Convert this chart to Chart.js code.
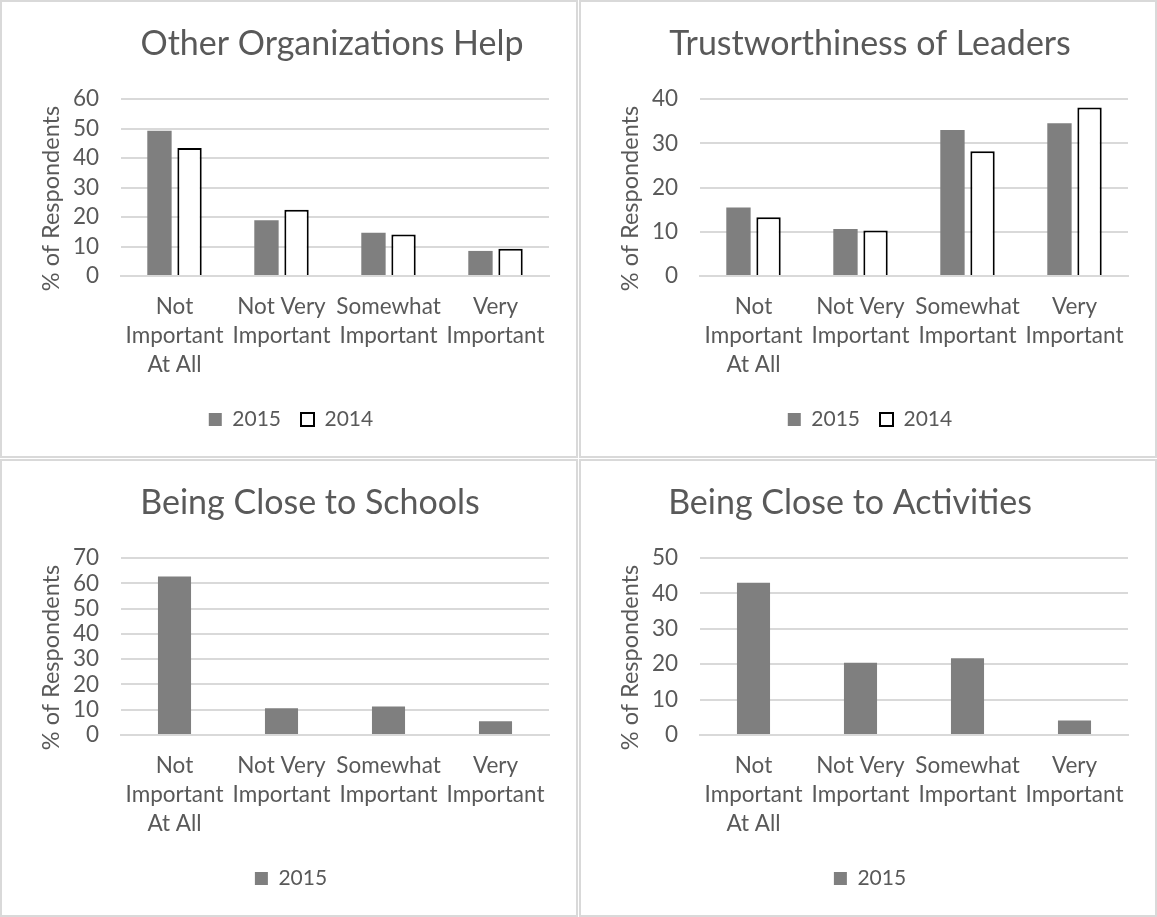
<!DOCTYPE html>
<html><head><meta charset="utf-8">
<script src="https://cdn.jsdelivr.net/npm/chart.js@4"></script>
<style>
html,body{margin:0;padding:0;background:#fff;}
body{width:1157px;height:917px;position:relative;overflow:hidden;}
.panel{position:absolute;width:578px;height:458px;border:2px solid #d9d9d9;box-sizing:border-box;background:#fff;}
.panel canvas{display:block;}
</style></head><body>
<div class="panel" style="left:0;top:0"><canvas id="c1" width="574" height="454"></canvas></div>
<div class="panel" style="left:579px;top:0"><canvas id="c2" width="574" height="454"></canvas></div>
<div class="panel" style="left:0;top:459px"><canvas id="c3" width="574" height="454"></canvas></div>
<div class="panel" style="left:579px;top:459px"><canvas id="c4" width="574" height="454"></canvas></div>
<script>
// ---- data ----
const categories = [['Not', 'Important', 'At All'], ['Not Very', 'Important'], ['Somewhat', 'Important'], ['Very', 'Important']];
const seriesNames = ['2015', '2014'];
const yAxisTitle = '% of Respondents';

const orgHelpTitle = 'Other Organizations Help';
const orgHelp2015 = [49.2, 18.9, 14.7, 8.5];
const orgHelp2014 = [43.4, 22.5, 14.1, 9.2];

const trustTitle = 'Trustworthiness of Leaders';
const trust2015 = [15.5, 10.6, 33.0, 34.5];
const trust2014 = [13.3, 10.3, 28.2, 38.1];

const schoolsTitle = 'Being Close to Schools';
const schools2015 = [62.7, 10.6, 11.3, 5.4];

const activitiesTitle = 'Being Close to Activities';
const activities2015 = [43.0, 20.4, 21.7, 4.1];

const yMaxOrgHelp = 60, yMaxTrust = 40, yMaxSchools = 70, yMaxActivities = 50;

// ---- styles ----
const TEXT = '#595959';
const GRID = '#d9d9d9';
const GRAY = '#7f7f7f';
Chart.defaults.font.family = 'Lato, "Liberation Sans", sans-serif';
Chart.defaults.color = TEXT;

// shifts the chart title horizontally and the y-axis title vertically (Excel-style manual placement)
const placement = {
  id: 'placement',
  afterLayout(chart, args, opts) {
    const tb = chart.titleBlock;
    if (tb && opts && opts.dx) { tb.left += opts.dx; tb.right += opts.dx; }
    const s = chart.scales.y;
    if (s && !s._titlePatched && opts && opts.yTitleDy) {
      const orig = s.drawTitle.bind(s);
      const dy = opts.yTitleDy;
      s.drawTitle = function () {
        const t = this.top, b = this.bottom;
        this.top = t + dy; this.bottom = b + dy;
        orig();
        this.top = t; this.bottom = b;
      };
      s._titlePatched = true;
    }
  }
};

function ds2015(values, single) {
  return { label: seriesNames[0], data: values, backgroundColor: GRAY, borderWidth: 0,
           categoryPercentage: 0.562, barPercentage: single ? 0.55 : 0.81 };
}
function ds2014(values) {
  return { label: seriesNames[1], data: values, backgroundColor: '#ffffff', borderColor: '#000000',
           borderWidth: 2, categoryPercentage: 0.562, barPercentage: 0.81 };
}

function makeChart(id, title, datasets, yMax, dx) {
  return new Chart(document.getElementById(id), {
    type: 'bar',
    data: { labels: categories, datasets },
    plugins: [placement],
    options: {
      responsive: false,
      animation: false,
      devicePixelRatio: 1,
      layout: { padding: { left: 31, right: 27, top: 0, bottom: 16 } },
      plugins: {
        placement: { dx, yTitleDy: 11 },
        title: { display: true, text: title, color: TEXT,
                 font: { size: 34, weight: 'normal', lineHeight: 1.2 },
                 padding: { top: 22, bottom: 34.2 } },
        legend: { position: 'bottom',
                  labels: { boxWidth: 13, boxHeight: 13, padding: 20, color: TEXT, font: { size: 21 } } },
        tooltip: { enabled: false }
      },
      scales: {
        x: {
          grid: { display: false, drawTicks: false },
          border: { display: true, color: GRID, width: 2 },
          ticks: { color: TEXT, font: { size: 22.5, lineHeight: 1.3 }, padding: 16,
                   maxRotation: 0, minRotation: 0, autoSkip: false },
          afterFit(s) { s.height = 113; }
        },
        y: {
          min: 0, max: yMax,
          grid: { color: GRID, lineWidth: 2, drawTicks: false },
          border: { display: false },
          ticks: { stepSize: 10, padding: 22, color: TEXT, font: { size: 22.5 }, autoSkip: false },
          title: { display: true, text: yAxisTitle, color: TEXT, font: { size: 23.5 },
                   padding: { top: 4, bottom: 0 } },
          afterFit(s) { s.width = 88; }
        }
      }
    }
  });
}

makeChart('c1', orgHelpTitle, [ds2015(orgHelp2015, false), ds2014(orgHelp2014)], yMaxOrgHelp, 41);
makeChart('c2', trustTitle, [ds2015(trust2015, false), ds2014(trust2014)], yMaxTrust, 0);
makeChart('c3', schoolsTitle, [ds2015(schools2015, true)], yMaxSchools, 19);
makeChart('c4', activitiesTitle, [ds2015(activities2015, true)], yMaxActivities, -20);
</script>
</body></html>
